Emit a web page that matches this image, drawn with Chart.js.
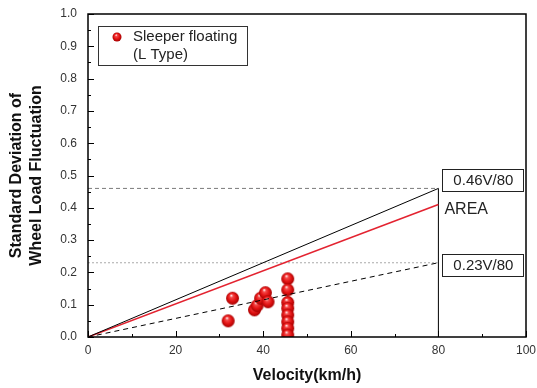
<!DOCTYPE html>
<html><head><meta charset="utf-8">
<script src="https://cdn.jsdelivr.net/npm/chart.js@4/dist/chart.umd.min.js"></script>
<style>html,body{margin:0;padding:0;background:#fff;}canvas{display:block;}</style>
</head><body>
<canvas id="c" width="537" height="388"></canvas>
<script>
// ---- data ----
const velocity = [32, 33, 38, 38.6, 39.4, 40.5, 41.1, 45.6, 45.6, 45.6, 45.6, 45.6, 45.6, 45.6, 45.6];
const stdDev   = [0.05, 0.12, 0.084, 0.097, 0.12, 0.137, 0.109, 0.18, 0.146, 0.107, 0.089, 0.068, 0.047, 0.027, 0.006];
const lineX      = [0, 80];
const upperLine  = [0, 0.46];   // 0.46V/80
const areaLine   = [0, 0.41];   // AREA
const lowerLine  = [0, 0.23];   // 0.23V/80
const upperLevel = [0.46, 0.46];
const lowerLevel = [0.23, 0.23];
const vertX      = [80, 80];
const vertY      = [0, 0.46];
const xTickValues = [0, 20, 40, 60, 80, 100];
const xTickLabels = ['0', '20', '40', '60', '80', '100'];
const yTickValues = [0, 0.1, 0.2, 0.3, 0.4, 0.5, 0.6, 0.7, 0.8, 0.9, 1.0];
const yTickLabels = ['0.0','0.1','0.2','0.3','0.4','0.5','0.6','0.7','0.8','0.9','1.0'];
const xMinor = [10, 30, 50, 70, 90];
const yMinor = [0.05, 0.15, 0.25, 0.35, 0.45, 0.55, 0.65, 0.75, 0.85, 0.95];
const legendLines = ['Sleeper floating', '(L Type)'];
const notes = [
  {text: '0.46V/80', x: 80, y: 0.486, box: true},
  {text: 'AREA',     x: 80, y: 0.396, box: false},
  {text: '0.23V/80', x: 80, y: 0.223, box: true}
];

const FONT = "'Liberation Sans', Arial, sans-serif";

function sphere(ctx, x, y, r) {
  const g = ctx.createRadialGradient(x - r * 0.2, y - r * 0.45, r * 0.05, x, y, r);
  g.addColorStop(0, '#fff0f0');
  g.addColorStop(0.22, '#f44848');
  g.addColorStop(0.6, '#e41414');
  g.addColorStop(1, '#a60000');
  return g;
}
function sphereImage(r) {
  const s = Math.ceil(r * 2) + 2;
  const cv = document.createElement('canvas');
  cv.width = s; cv.height = s;
  const g = cv.getContext('2d');
  g.beginPath();
  g.fillStyle = sphere(g, s / 2, s / 2, r);
  g.arc(s / 2, s / 2, r, 0, Math.PI * 2);
  g.fill();
  return cv;
}
const ball = sphereImage(6.5);

const pts = velocity.map((v, i) => ({x: v, y: stdDev[i]}));
const mk = (xs, ys) => xs.map((x, i) => ({x, y: ys[i]}));

const decor = {
  id: 'decor',
  afterDraw(chart) {
    const {ctx, chartArea: a, scales: {x, y}} = chart;
    ctx.save();
    ctx.strokeStyle = '#000';
    ctx.lineWidth = 1.5;
    ctx.strokeRect(a.left, a.top, a.right - a.left, a.bottom - a.top);
    ctx.lineWidth = 1;
    ctx.beginPath();
    xTickValues.forEach(v => { const p = Math.round(x.getPixelForValue(v)) + 0.5; ctx.moveTo(p, a.bottom); ctx.lineTo(p, a.bottom - 6); });
    xMinor.forEach(v => { const p = Math.round(x.getPixelForValue(v)) + 0.5; ctx.moveTo(p, a.bottom); ctx.lineTo(p, a.bottom - 3); });
    yTickValues.forEach(v => { const p = Math.round(y.getPixelForValue(v)) + 0.5; ctx.moveTo(a.left, p); ctx.lineTo(a.left + 6, p); });
    yMinor.forEach(v => { const p = Math.round(y.getPixelForValue(v)) + 0.5; ctx.moveTo(a.left, p); ctx.lineTo(a.left + 3, p); });
    ctx.stroke();
    // legend
    const lx = a.left + 10, ly = a.top + 12;
    ctx.fillStyle = '#fff';
    ctx.fillRect(lx, ly, 149, 39);
    ctx.strokeStyle = '#333';
    ctx.lineWidth = 1;
    ctx.strokeRect(lx + 0.5, ly + 0.5, 149, 39);
    ctx.beginPath();
    ctx.fillStyle = sphere(ctx, lx + 19, ly + 11, 4.5);
    ctx.arc(lx + 19, ly + 11, 4.5, 0, Math.PI * 2);
    ctx.fill();
    ctx.fillStyle = '#222';
    ctx.font = '15px ' + FONT;
    ctx.textBaseline = 'middle';
    ctx.textAlign = 'left';
    ctx.fillText(legendLines[0], lx + 35, ly + 11);
    ctx.fillText(legendLines[1], lx + 35, ly + 29);
    // notes
    notes.forEach(n => {
      const px = x.getPixelForValue(n.x) + 4;
      const py = y.getPixelForValue(n.y);
      if (n.box) {
        ctx.fillStyle = '#fff';
        ctx.fillRect(px, py - 11, 81, 22);
        ctx.strokeStyle = '#222';
        ctx.strokeRect(Math.round(px) + 0.5, Math.round(py - 11) + 0.5, 81, 22);
        ctx.fillStyle = '#222';
        ctx.textAlign = 'center';
        ctx.font = '15px ' + FONT;
        ctx.fillText(n.text, px + 41, py + 1);
      } else {
        ctx.fillStyle = '#222';
        ctx.textAlign = 'left';
        ctx.font = '16px ' + FONT;
        ctx.fillText(n.text, px + 2, py + 1);
      }
    });
    ctx.restore();
  }
};

const lineDs = (data, color, width, dash) => ({
  type: 'scatter', data, showLine: true, borderColor: color, borderWidth: width,
  borderDash: dash || [], pointRadius: 0, fill: false
});

const noPad = s => { s.paddingTop = 0; s.paddingBottom = 0; s.paddingLeft = 0; s.paddingRight = 0; };

new Chart(document.getElementById('c'), {
  type: 'scatter',
  data: {
    datasets: [
      lineDs(mk(lineX, upperLine), '#000', 1),
      lineDs(mk(lineX, areaLine), '#e32330', 1.6),
      lineDs(mk(lineX, lowerLine), '#000', 1, [5, 4]),
      lineDs(mk(lineX, upperLevel), '#7a7a7a', 1, [4, 3]),
      lineDs(mk(lineX, lowerLevel), '#b8b8b8', 1.2, [2, 2]),
      lineDs(mk(vertX, vertY), '#000', 1),
      {
        label: 'Sleeper floating (L Type)',
        data: pts,
        pointRadius: 6.5,
        pointStyle: ball,
        borderWidth: 0,
        backgroundColor: '#e41414'
      }
    ]
  },
  options: {
    responsive: false,
    devicePixelRatio: 1,
    animation: false,
    layout: {padding: {top: 14, right: 11, left: 0, bottom: 0}},
    plugins: {legend: {display: false}, tooltip: {enabled: false}},
    scales: {
      x: {
        type: 'linear', min: 0, max: 100,
        afterBuildTicks: s => { s.ticks = xTickValues.map(v => ({value: v})); },
        afterFit: s => { s.height = 51; noPad(s); },
        grid: {display: false, drawTicks: false},
        border: {display: false},
        ticks: {
          padding: 6, color: '#333', font: {family: FONT, size: 12},
          callback: (v) => xTickLabels[xTickValues.indexOf(v)]
        },
        title: {display: true, text: 'Velocity(km/h)', color: '#111',
          font: {family: FONT, size: 16, weight: 'bold', lineHeight: 1.2},
          padding: {top: 0, bottom: 3}}
      },
      y: {
        type: 'linear', min: 0, max: 1,
        afterBuildTicks: s => { s.ticks = yTickValues.map(v => ({value: v})); },
        afterFit: s => { s.width = 88; noPad(s); },
        grid: {display: false, drawTicks: false},
        border: {display: false},
        ticks: {
          padding: 11, color: '#333', font: {family: FONT, size: 12},
          callback: (v) => yTickLabels[yTickValues.findIndex(t => Math.abs(t - v) < 1e-9)]
        },
        title: {display: true, text: ['Standard Deviation of', 'Wheel Load Fluctuation'], color: '#111',
          font: {family: FONT, size: 16, weight: 'bold', lineHeight: 1.25},
          padding: {top: 7, bottom: 0}}
      }
    }
  },
  plugins: [decor]
});
</script>
</body></html>
